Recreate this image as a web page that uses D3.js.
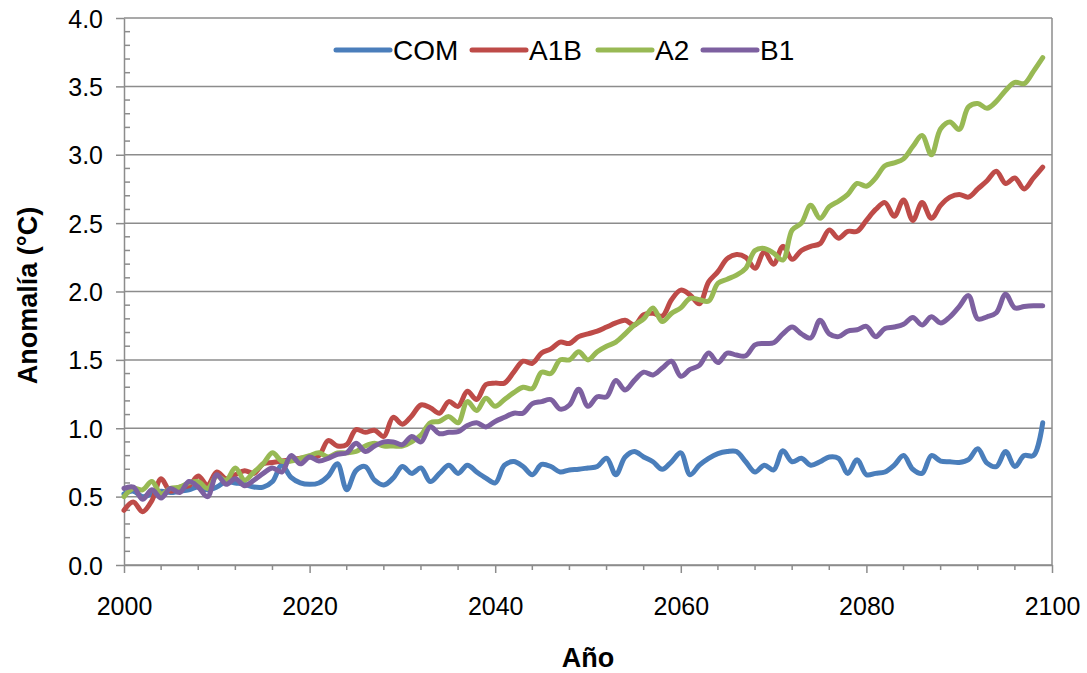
<!DOCTYPE html>
<html>
<head>
<meta charset="utf-8">
<script src="https://cdn.jsdelivr.net/npm/d3@7"></script>
<style>
  html, body { margin: 0; padding: 0; background: #ffffff; }
  svg { display: block; }
  text { font-family: "Liberation Sans", Arial, sans-serif; fill: #000; }
</style>
</head>
<body>
<svg id="chart" width="1087" height="673"></svg>
<script>
// Annual temperature anomaly (°C), 2000–2099
const firstYear = 2000;
const seriesNames = ["COM", "A1B", "A2", "B1"];
const seriesColors = ["#4A7EBB", "#BE4B48", "#98B954", "#7D60A0"];

const COM = [0.52,0.54,0.50,0.52,0.54,0.53,0.54,0.55,0.57,0.55,
             0.57,0.61,0.60,0.59,0.57,0.57,0.61,0.73,0.64,0.60,
             0.59,0.60,0.65,0.74,0.55,0.69,0.72,0.62,0.585,0.635,
             0.72,0.67,0.71,0.61,0.67,0.73,0.67,0.73,0.68,0.635,
             0.60,0.73,0.756,0.72,0.66,0.735,0.72,0.68,0.695,0.70,
             0.71,0.72,0.78,0.66,0.79,0.83,0.79,0.755,0.70,0.755,
             0.82,0.66,0.73,0.78,0.815,0.83,0.83,0.755,0.68,0.73,
             0.695,0.835,0.755,0.78,0.73,0.755,0.79,0.78,0.67,0.77,
             0.66,0.67,0.68,0.73,0.80,0.70,0.67,0.80,0.76,0.755,
             0.75,0.77,0.85,0.745,0.72,0.83,0.72,0.80,0.80,1.04];

const A1B = [0.40,0.46,0.39,0.47,0.63,0.54,0.57,0.58,0.65,0.585,
             0.68,0.63,0.66,0.69,0.67,0.74,0.75,0.76,0.77,0.78,
             0.79,0.80,0.91,0.87,0.88,0.99,0.97,0.985,0.94,1.08,
             1.03,1.09,1.17,1.15,1.11,1.195,1.16,1.27,1.21,1.32,
             1.33,1.33,1.41,1.49,1.475,1.55,1.58,1.63,1.62,1.67,
             1.69,1.71,1.74,1.77,1.79,1.755,1.83,1.84,1.82,1.94,
             2.01,1.975,1.91,2.07,2.145,2.24,2.27,2.25,2.17,2.29,
             2.20,2.33,2.235,2.30,2.33,2.35,2.45,2.39,2.44,2.44,
             2.52,2.60,2.65,2.55,2.67,2.52,2.65,2.535,2.63,2.69,
             2.71,2.69,2.75,2.81,2.88,2.79,2.83,2.75,2.83,2.91];

const A2 = [0.50,0.56,0.55,0.61,0.52,0.56,0.57,0.60,0.61,0.56,
            0.65,0.62,0.71,0.62,0.68,0.74,0.82,0.76,0.76,0.78,
            0.80,0.82,0.79,0.82,0.82,0.83,0.87,0.89,0.87,0.87,
            0.87,0.90,0.95,1.04,1.05,1.085,1.04,1.195,1.13,1.22,
            1.16,1.21,1.26,1.30,1.29,1.41,1.40,1.50,1.50,1.56,
            1.50,1.56,1.60,1.63,1.69,1.755,1.80,1.88,1.78,1.84,
            1.88,1.95,1.94,1.93,2.06,2.09,2.12,2.17,2.30,2.315,
            2.28,2.23,2.45,2.50,2.63,2.535,2.62,2.66,2.71,2.79,
            2.77,2.83,2.92,2.94,2.97,3.06,3.14,3.00,3.19,3.24,
            3.185,3.35,3.375,3.34,3.39,3.47,3.53,3.52,3.61,3.71];

const B1 = [0.56,0.57,0.48,0.55,0.49,0.56,0.53,0.61,0.57,0.50,
            0.66,0.59,0.63,0.58,0.62,0.67,0.71,0.68,0.80,0.74,
            0.79,0.76,0.78,0.81,0.82,0.89,0.83,0.87,0.90,0.90,
            0.88,0.94,0.90,1.01,0.96,0.97,0.975,1.02,1.04,1.01,
            1.05,1.08,1.11,1.11,1.18,1.195,1.21,1.14,1.17,1.285,
            1.16,1.23,1.23,1.35,1.28,1.35,1.41,1.39,1.44,1.49,
            1.38,1.43,1.46,1.55,1.48,1.55,1.535,1.53,1.61,1.62,
            1.625,1.69,1.74,1.69,1.66,1.79,1.69,1.67,1.71,1.72,
            1.745,1.67,1.73,1.74,1.76,1.81,1.755,1.815,1.77,1.815,
            1.89,1.97,1.80,1.815,1.845,1.98,1.88,1.89,1.895,1.895];

const seriesValues = [COM, A1B, A2, B1];

const xTickValues = [2000, 2020, 2040, 2060, 2080, 2100];
const yTickValues = [0.0, 0.5, 1.0, 1.5, 2.0, 2.5, 3.0, 3.5, 4.0];

const xTitle = "Año";
const yTitle = "Anomalía (°C)";

// Layout
const plot = { left: 124, right: 1052, top: 18, bottom: 565 };
const axisColor = "#8C8C8C";

const svg = d3.select("#chart");

const x = d3.scaleLinear().domain([2000, 2100]).range([plot.left, plot.right]);
const y = d3.scaleLinear().domain([0, 4]).range([plot.bottom, plot.top]);

// Horizontal gridlines
svg.append("g")
  .selectAll("line")
  .data(yTickValues)
  .join("line")
  .attr("x1", plot.left).attr("x2", plot.right)
  .attr("y1", d => y(d)).attr("y2", d => y(d))
  .attr("stroke", axisColor).attr("stroke-width", 1.5);

// Plot-area right border
svg.append("line")
  .attr("x1", plot.right).attr("x2", plot.right)
  .attr("y1", plot.top).attr("y2", plot.bottom)
  .attr("stroke", axisColor).attr("stroke-width", 1.5);

// Y axis: major ticks outward, minor ticks inward
const yAxis = svg.append("g").attr("transform", `translate(${plot.left},0)`);
yAxis.call(d3.axisLeft(y).tickValues(yTickValues).tickSize(8).tickSizeOuter(0).tickFormat(d3.format(".1f")))
  .call(g => g.select(".domain").attr("stroke", axisColor).attr("stroke-width", 1.5))
  .call(g => g.selectAll(".tick line").attr("stroke", axisColor).attr("stroke-width", 1.5))
  .call(g => g.selectAll(".tick text").attr("x", -21).attr("dy", "0.36em")
    .style("font-size", "25px").style("fill", "#000"));
const yMinor = d3.range(0, 41).map(i => i / 10).filter(v => Math.round(v * 10) % 5 !== 0);
yAxis.append("g").selectAll("line").data(yMinor).join("line")
  .attr("x1", 0).attr("x2", 6)
  .attr("y1", d => y(d)).attr("y2", d => y(d))
  .attr("stroke", axisColor).attr("stroke-width", 1.5);

// X axis: major and minor ticks outward
const xAxis = svg.append("g").attr("transform", `translate(0,${plot.bottom})`);
xAxis.call(d3.axisBottom(x).tickValues(xTickValues).tickSize(8).tickSizeOuter(0).tickFormat(d3.format("d")))
  .call(g => g.select(".domain").attr("stroke", axisColor).attr("stroke-width", 1.5))
  .call(g => g.selectAll(".tick line").attr("stroke", axisColor).attr("stroke-width", 1.5))
  .call(g => g.selectAll(".tick text").attr("y", 32)
    .style("font-size", "25px").style("fill", "#000"));
const xMinor = d3.range(2004, 2100, 4).filter(v => v % 20 !== 0);
xAxis.append("g").selectAll("line").data(xMinor).join("line")
  .attr("x1", d => x(d)).attr("x2", d => x(d))
  .attr("y1", 0).attr("y2", 5)
  .attr("stroke", axisColor).attr("stroke-width", 1.5);

// Series lines (smoothed)
const line = d3.line()
  .x((d, i) => x(firstYear + i))
  .y(d => y(d))
  .curve(d3.curveCatmullRom.alpha(0.5));

svg.append("g")
  .selectAll("path")
  .data(seriesValues)
  .join("path")
  .attr("d", d => line(d))
  .attr("fill", "none")
  .attr("stroke", (d, i) => seriesColors[i])
  .attr("stroke-width", 5)
  .attr("stroke-linejoin", "round")
  .attr("stroke-linecap", "round");

// Legend
const legendItems = [
  { x: 336 }, { x: 472 }, { x: 598 }, { x: 703 }
];
const legend = svg.append("g");
seriesNames.forEach((name, i) => {
  const lx = legendItems[i].x;
  legend.append("line")
    .attr("x1", lx).attr("x2", lx + 54)
    .attr("y1", 50).attr("y2", 50)
    .attr("stroke", seriesColors[i]).attr("stroke-width", 5)
    .attr("stroke-linecap", "round");
  legend.append("text")
    .attr("x", lx + 57).attr("y", 50).attr("dy", "0.36em")
    .style("font-size", "28px")
    .text(name);
});

// Axis titles
svg.append("text")
  .attr("x", (plot.left + plot.right) / 2).attr("y", 667)
  .attr("text-anchor", "middle")
  .style("font-size", "27px").style("font-weight", "bold")
  .text(xTitle);

svg.append("text")
  .attr("transform", `translate(37,${(plot.top + plot.bottom) / 2 + 4}) rotate(-90)`)
  .attr("text-anchor", "middle")
  .style("font-size", "27px").style("font-weight", "bold")
  .text(yTitle);
</script>
</body>
</html>
